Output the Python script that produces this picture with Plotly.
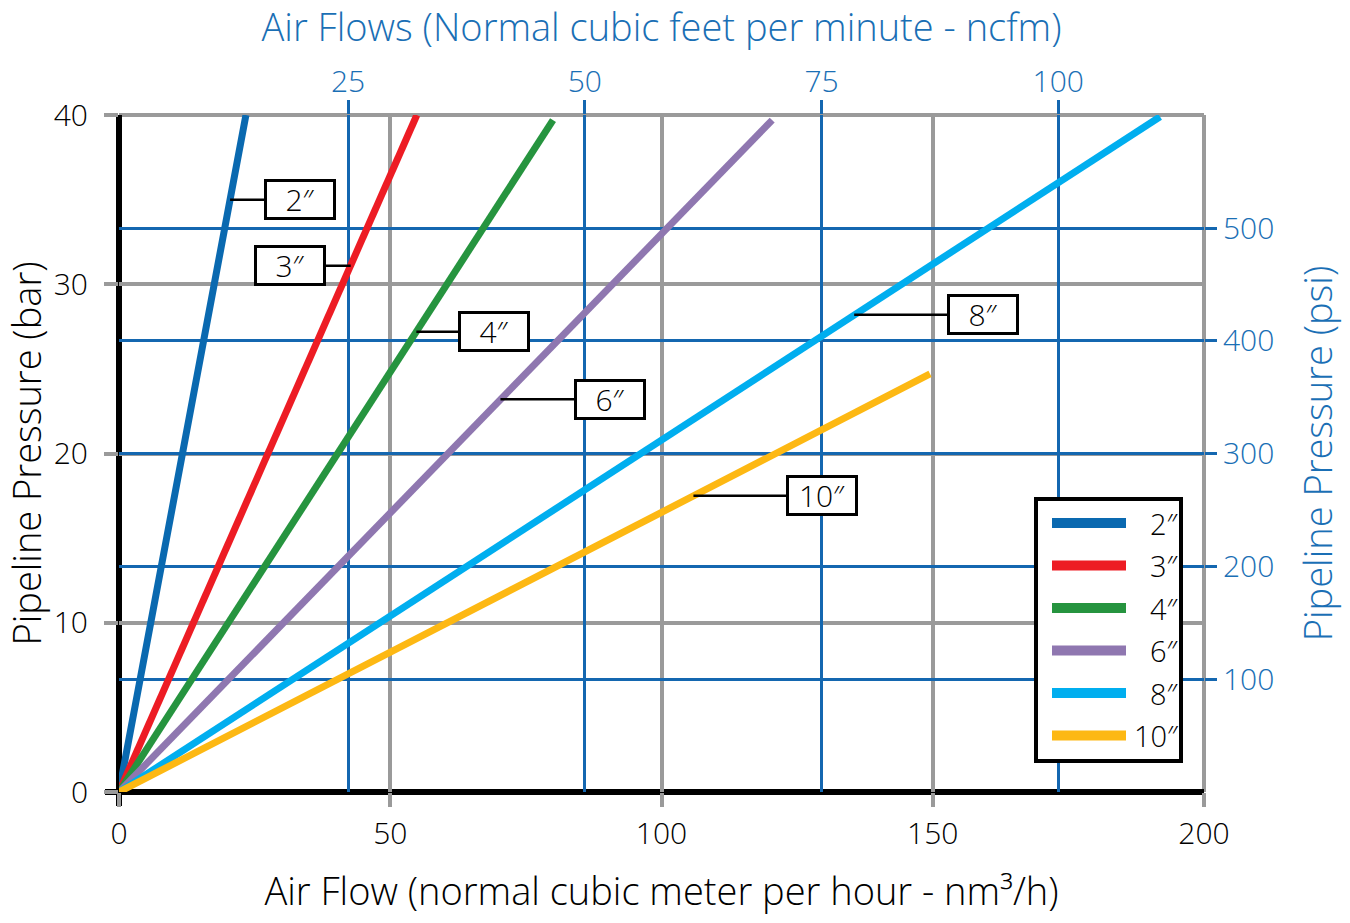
import numpy as np
import plotly.graph_objects as go

# ---------------- data ----------------
pipe_sizes = ["2″", "3″", "4″", "6″", "8″", "10″"]

flow_2in = [0, 11.7, 23.4]
pres_2in = [0, 20, 40]
flow_3in = [0, 27.5, 54.9]
pres_3in = [0, 20, 40]
flow_4in = [0, 40.3, 80.0]
pres_4in = [0, 20, 39.7]
flow_6in = [0, 60.6, 120.4]
pres_6in = [0, 20, 39.7]
flow_8in = [0, 96.0, 191.9]
pres_8in = [0, 20, 39.9]
flow_10in = [0, 75.0, 149.5]
pres_10in = [0, 12.4, 24.7]

# pressure (bar) at which each in-plot label points to its line
label_pressures = [35.0, 31.1, 27.2, 23.2, 28.2, 17.5]

x_ticks_nm3h = [0, 50, 100, 150, 200]
y_ticks_bar = [0, 10, 20, 30, 40]
x_ticks_ncfm = [25, 50, 75, 100]
y_ticks_psi = [100, 200, 300, 400, 500]

# ---------------- styles ----------------
colors = ["#0a69b0", "#ed1c24", "#26943f", "#8f77b0", "#00aeef", "#fdb813"]
label_offsets_px = [70, -61, 78, 110, 129, 129]
GRAY = "#9a9a9a"
BLUE = "#1467b0"
TITLE_BLUE = "#1a6fb5"
FONT = "'Open Sans', Roboto, sans-serif"
W8 = 300

flows = [flow_2in, flow_3in, flow_4in, flow_6in, flow_8in, flow_10in]
pressures = [pres_2in, pres_3in, pres_4in, pres_6in, pres_8in, pres_10in]

W, H = 1350, 923
ML, MR, MT, MB = 119, 146, 115, 131
PW, PH = W - ML - MR, H - MT - MB

fig = go.Figure()
for name, fx, py, c in zip(pipe_sizes, flows, pressures, colors):
    fig.add_trace(go.Scatter(x=fx, y=py, mode="lines", name=name,
                             line=dict(color=c, width=7), showlegend=False,
                             hovertemplate=name + ": %{x} nm³/h, %{y} bar<extra></extra>"))

# empty trace to establish the secondary (ncfm / psi) axes
fig.add_trace(go.Scatter(x=[], y=[], xaxis="x2", yaxis="y2", showlegend=False,
                         hoverinfo="skip"))

shapes = []
# gray frame (top and right)
shapes.append(dict(type="line", xref="paper", yref="paper", x0=0, x1=1, y0=1, y1=1,
                   line=dict(color=GRAY, width=4), layer="below"))
shapes.append(dict(type="line", xref="paper", yref="paper", x0=1, x1=1, y0=0, y1=1,
                   line=dict(color=GRAY, width=4), layer="below"))
# black axes (left and bottom), extended as tick at 0
shapes.append(dict(type="line", xref="paper", yref="paper", x0=-14 / PW, x1=1, y0=0, y1=0,
                   line=dict(color="black", width=6), layer="below"))
shapes.append(dict(type="line", xref="paper", yref="paper", x0=0, x1=0, y0=-14 / PH, y1=1,
                   line=dict(color="black", width=6), layer="below"))

annotations = []
# in-plot labels with leader lines
for name, fx, py, yl, off in zip(pipe_sizes, flows, pressures, label_pressures, label_offsets_px):
    xl = float(np.interp(yl, py, fx))
    annotations.append(dict(x=xl, y=yl, xref="x", yref="y", text=name,
                            showarrow=True, arrowhead=0, arrowwidth=2.5, arrowcolor="black",
                            ax=off, ay=0,
                            font=dict(size=30, color="black", family=FONT, weight=W8),
                            bgcolor="white", bordercolor="black", borderwidth=3,
                            borderpad=1, width=64, height=33))

# custom legend box
def px_x(p):
    return (p - ML) / PW

def px_y(p):
    return (H - MB - p) / PH

shapes.append(dict(type="rect", xref="paper", yref="paper",
                   x0=px_x(1036), x1=px_x(1181), y0=px_y(761), y1=px_y(499),
                   line=dict(color="black", width=4), fillcolor="white", layer="above"))
for i, (name, c) in enumerate(zip(pipe_sizes, colors)):
    yc = px_y(523 + i * 42.5)
    shapes.append(dict(type="line", xref="paper", yref="paper",
                       x0=px_x(1052), x1=px_x(1126), y0=yc, y1=yc,
                       line=dict(color=c, width=10), layer="above"))
    annotations.append(dict(x=px_x(1181), y=yc, xref="paper", yref="paper", text=name,
                            showarrow=False, xanchor="right", yanchor="middle",
                            font=dict(size=29, color="black", family=FONT, weight=W8)))

tickfont_k = dict(size=30, color="black", family=FONT, weight=W8)
tickfont_b = dict(size=30, color=TITLE_BLUE, family=FONT, weight=W8)
TS = 38

fig.update_layout(
    width=W, height=H, autosize=False,
    margin=dict(l=ML, r=MR, t=MT, b=MB, pad=0),
    plot_bgcolor="white", paper_bgcolor="white",
    font=dict(family=FONT, color="black", weight=W8),
    showlegend=False,
    xaxis=dict(range=[0, 200], tickvals=x_ticks_nm3h, showgrid=True, gridcolor=GRAY,
               gridwidth=4, zeroline=False, showline=False, ticks="outside",
               ticklen=14, tickwidth=4, tickcolor=GRAY, tickfont=tickfont_k,
               ticklabelstandoff=1,
               title=dict(text="Air Flow (normal cubic meter per hour - nm³/h)",
                          font=dict(size=TS, color="black", family=FONT, weight=W8),
                          standoff=26)),
    yaxis=dict(range=[0, 40], tickvals=y_ticks_bar, showgrid=True, gridcolor=GRAY,
               gridwidth=4, zeroline=False, showline=False, ticks="outside",
               ticklen=14, tickwidth=4, tickcolor=GRAY, tickfont=tickfont_k,
               ticklabelstandoff=10,
               title=dict(text="Pipeline Pressure (bar)",
                          font=dict(size=TS, color="black", family=FONT, weight=W8),
                          standoff=0)),
    xaxis2=dict(range=[0.8, 115.4], overlaying="x", side="top", anchor="y2",
                tickvals=x_ticks_ncfm, showgrid=True, gridcolor=BLUE, gridwidth=3,
                zeroline=False, showline=False, ticks="outside", ticklen=14,
                tickwidth=3, tickcolor=BLUE, tickfont=tickfont_b,
                ticklabelstandoff=-4,
                title=dict(text="Air Flows (Normal cubic feet per minute - ncfm)",
                           font=dict(size=TS, color=TITLE_BLUE, family=FONT, weight=W8),
                           standoff=14)),
    yaxis2=dict(range=[0, 600.4], overlaying="y", side="right", anchor="x2",
                tickvals=y_ticks_psi, showgrid=True, gridcolor=BLUE, gridwidth=3,
                zeroline=False, showline=False, ticks="outside", ticklen=12,
                tickwidth=3, tickcolor=BLUE, tickfont=tickfont_b,
                title=dict(text="Pipeline Pressure (psi)",
                           font=dict(size=TS, color=TITLE_BLUE, family=FONT, weight=W8),
                           standoff=32)),
    shapes=shapes,
    annotations=annotations,
)

fig.write_html("out.html")
